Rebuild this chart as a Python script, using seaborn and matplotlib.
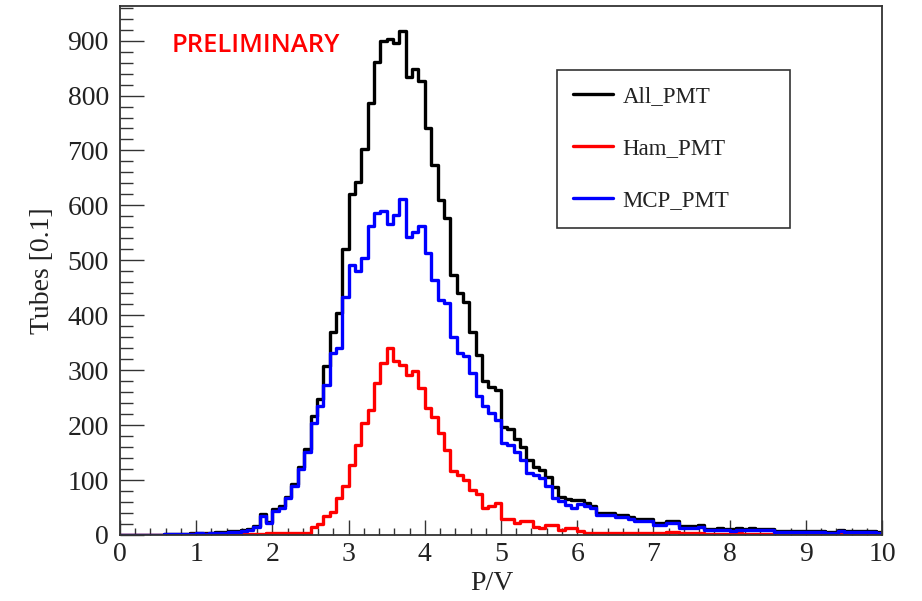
import numpy as np
import pandas as pd
import matplotlib
matplotlib.use("Agg")
import matplotlib.pyplot as plt
import seaborn as sns
from matplotlib.lines import Line2D
from matplotlib.ticker import MultipleLocator

# ---------------- data (120 bins from 0 to 10) ----------------
n_bins = 120
x_range = (0, 10)

all_pmt = [
    0, 0, 0, 0, 0, 0, 0, 1, 1, 2,
    1, 3, 4, 3, 4, 5, 5, 7, 8, 10,
    11, 17, 38, 24, 47, 53, 70, 92, 123, 156,
    217, 248, 307, 370, 404, 520, 621, 642, 703, 786,
    861, 899, 903, 895, 917, 834, 848, 827, 741, 673,
    609, 577, 474, 440, 425, 370, 328, 280, 270, 264,
    196, 193, 175, 160, 137, 124, 118, 106, 87, 70,
    66, 63, 63, 58, 53, 40, 40, 40, 37, 37,
    33, 29, 29, 29, 21, 21, 26, 26, 16, 16,
    16, 18, 11, 11, 12, 11, 11, 12, 11, 12,
    11, 11, 11, 8, 8, 8, 8, 8, 8, 8,
    8, 6, 6, 10, 8, 8, 8, 8, 7, 5,
]

ham_pmt = [
    0, 0, 0, 0, 0, 0, 0, 0, 0, 0,
    0, 1, 1, 1, 1, 1, 1, 2, 2, 2,
    2, 2, 2, 3, 3, 3, 3, 3, 3, 4,
    15, 20, 35, 42, 67, 89, 127, 164, 203, 228,
    277, 313, 340, 316, 310, 291, 299, 267, 231, 215,
    186, 155, 117, 109, 101, 82, 75, 49, 53, 58,
    30, 29, 22, 26, 26, 15, 12, 18, 18, 10,
    13, 13, 8, 4, 4, 4, 4, 4, 4, 4,
    3, 3, 3, 3, 3, 3, 5, 5, 3, 3,
    3, 3, 2, 2, 2, 2, 3, 3, 2, 2,
    2, 2, 2, 2, 2, 2, 2, 2, 2, 2,
    2, 2, 2, 2, 2, 2, 2, 2, 1, 1,
]

mcp_pmt = [
    0, 0, 0, 0, 0, 0, 0, 1, 1, 2,
    1, 2, 3, 2, 3, 4, 4, 5, 6, 8,
    9, 15, 35, 21, 44, 50, 67, 89, 120, 152,
    203, 234, 273, 331, 340, 434, 492, 481, 504, 563,
    586, 589, 566, 583, 612, 543, 552, 562, 513, 464,
    428, 422, 361, 331, 325, 294, 253, 234, 222, 209,
    167, 164, 152, 137, 112, 109, 103, 90, 68, 61,
    55, 50, 56, 53, 49, 36, 36, 36, 33, 33,
    30, 26, 26, 26, 18, 18, 21, 21, 13, 13,
    13, 15, 9, 9, 10, 9, 8, 9, 9, 10,
    9, 9, 9, 6, 6, 6, 6, 6, 6, 6,
    6, 4, 4, 8, 6, 6, 6, 6, 6, 4,
]

series_names = ["All_PMT", "Ham_PMT", "MCP_PMT"]
series_colors = ["#000000", "#ff0000", "#0000ff"]
x_ticks = [0, 1, 2, 3, 4, 5, 6, 7, 8, 9, 10]
y_ticks = [0, 100, 200, 300, 400, 500, 600, 700, 800, 900]

# ---------------- figure ----------------
sns.set_theme(style="white")
plt.rcParams['font.family'] = ['Liberation Serif', 'DejaVu Serif']

W, H = 922, 601
fig = plt.figure(figsize=(W / 100, H / 100), dpi=100)
L, R, T, B = 120, 882, 6, 535
ax = fig.add_axes([L / W, (H - B) / H, (R - L) / W, (B - T) / H])

edges = np.linspace(x_range[0], x_range[1], n_bins + 1)
centers = (edges[:-1] + edges[1:]) / 2
frames = []
for name, vals in zip(series_names, [all_pmt, ham_pmt, mcp_pmt]):
    frames.append(pd.DataFrame({"pv": centers, "tubes": vals, "series": name}))
df = pd.concat(frames, ignore_index=True)

for name, col in zip(series_names, series_colors):
    sns.histplot(data=df[df["series"] == name], x="pv", weights="tubes",
                 bins=n_bins, binrange=x_range, element="step", fill=False,
                 color=col, linewidth=2.4, ax=ax)

ax.set_xlim(0, 10)
ax.set_ylim(0, 963)
ax.set_xticks(x_ticks)
ax.set_yticks(y_ticks)
ax.xaxis.set_minor_locator(MultipleLocator(0.2))
ax.yaxis.set_minor_locator(MultipleLocator(20))

ax.tick_params(axis='both', which='both', direction='in', colors='#333333',
               width=1.0, labelcolor='#222222', labelsize=20)
ax.tick_params(axis='y', which='major', length=17, pad=8)
ax.tick_params(axis='y', which='minor', length=9)
ax.tick_params(axis='x', which='major', length=11, pad=5)
ax.tick_params(axis='x', which='minor', length=5)
ax.tick_params(axis='both', which='both', top=False, right=False,
               bottom=True, left=True)

for s in ax.spines.values():
    s.set_visible(True)
    s.set_color('#333333')
    s.set_linewidth(1.3)

ax.set_xlabel("P/V", fontsize=20, color='#222222')
ax.xaxis.set_label_coords((492 - L) / (R - L), -0.068)
ax.set_ylabel("Tubes [0.1]", fontsize=20, color='#222222')
ax.yaxis.set_label_coords(-0.085, 0.5)

handles = [Line2D([0], [0], color=c, lw=2.4) for c in series_colors]
leg = ax.legend(handles, series_names, loc='upper left',
                bbox_to_anchor=((557 - L) / (R - L), (B - 70) / (B - T),
                                (790 - 557) / (R - L), 0.0),
                mode='expand', fontsize=16.5, frameon=True, fancybox=False,
                edgecolor='#333333', framealpha=1, borderpad=0.7,
                labelspacing=1.36, handlelength=1.75, handletextpad=0.4,
                borderaxespad=0.0)
leg.get_frame().set_linewidth(1.2)
for t in leg.get_texts():
    t.set_color('#222222')

fig.text(172 / W, (H - 52) / H, "PRELIMINARY", color='#ff0000',
         fontsize=18.5, fontweight='semibold', family=['Open Sans', 'DejaVu Sans'],
         ha='left', va='baseline')

fig.savefig("out.png", dpi=100)
